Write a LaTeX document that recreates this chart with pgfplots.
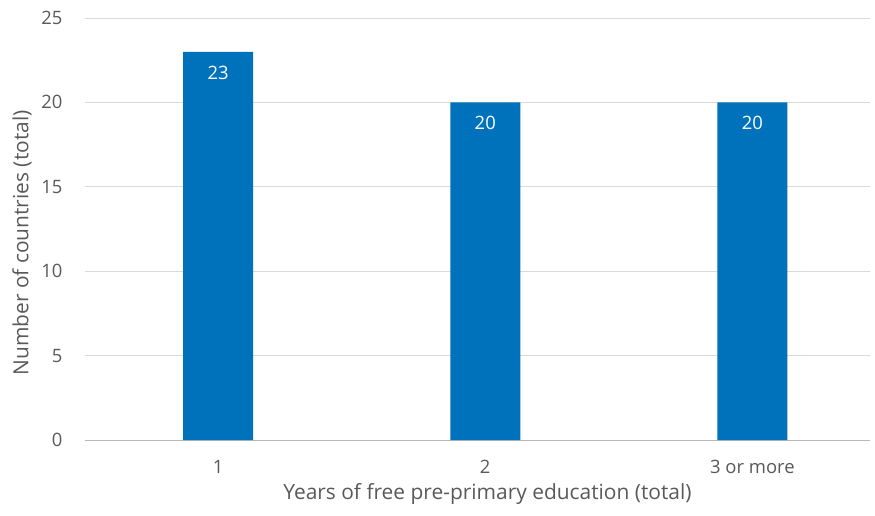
\documentclass[border=0pt]{standalone}
\usepackage{pgfplots}
\pgfplotsset{compat=1.18}
\usepackage{fontspec}
\setmainfont{Open Sans}
\definecolor{barblue}{RGB}{0,114,188}
\definecolor{gridgray}{RGB}{217,217,217}
\definecolor{txtgray}{RGB}{89,89,89}
\begin{document}
\begin{tikzpicture}
\useasboundingbox (-85bp,-76bp) rectangle (790bp,440bp);
\begin{axis}[
  at={(0,0)}, anchor=south west,
  scale only axis,
  width=785bp, height=422bp,
  xmin=0.502, xmax=3.44,
  ymin=0, ymax=25,
  ytick={0,5,10,15,20,25},
  xtick={1,2,3},
  xticklabels={1,2,3 or more},
  ybar, bar width=0.262,
  axis line style={draw=none},
  major tick length=0pt,
  ymajorgrids, grid style={gridgray, line width=0.8pt},
  tick label style={font=\fontsize{18.5}{22}\selectfont, text=txtgray},
  /pgf/number format/assume math mode=true,
  label style={font=\fontsize{21}{25}\selectfont, text=txtgray},
  xlabel={Years of free pre-primary education (total)},
  ylabel={Number of countries (total)},
  xlabel style={at={(axis description cs:0.5,0)}, anchor=center, yshift=-54bp, xshift=10bp},
  ylabel style={at={(axis description cs:0,0.5)}, anchor=center, yshift=63bp, xshift=-14bp},
  yticklabel style={xshift=-19bp},
  xticklabel style={anchor=center, yshift=-27bp},
  nodes near coords,
  every node near coord/.append style={font=\fontsize{18.5}{22}\selectfont, text=white, anchor=center, yshift=-21bp},
]
\draw[gridgray!85!black, line width=0.8pt] (axis cs:0.502,0) -- (axis cs:3.44,0);
\addplot[fill=barblue, draw=none] coordinates {(1,23) (2,20) (3,20)};
\end{axis}
\end{tikzpicture}
\end{document}
